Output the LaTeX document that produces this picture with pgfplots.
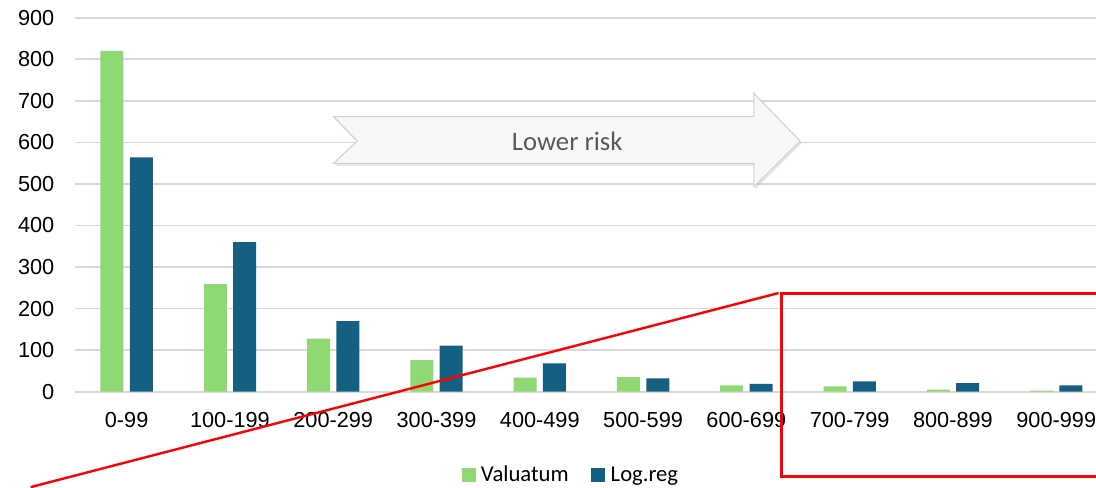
\documentclass[border=0pt]{standalone}
\usepackage{pgfplots}
\pgfplotsset{compat=1.18}
\usepackage{fontspec}
\setmainfont{Liberation Sans}
\newfontfamily\carlito{Carlito}
\usetikzlibrary{shadows}
\definecolor{valgreen}{HTML}{8ED973}
\definecolor{logblue}{HTML}{156082}
\definecolor{gridgray}{HTML}{D9D9D9}
\definecolor{arrowfill}{HTML}{F7F7F7}
\definecolor{arrowedge}{HTML}{D0D0D0}
\definecolor{textgray}{HTML}{595959}

\begin{document}
\begin{tikzpicture}
\begin{axis}[
  width=765.75pt, height=280.5pt, scale only axis,
  xmin=-0.5, xmax=9.385, ymin=0, ymax=900,
  ytick={0,100,...,900},
  xtick={0,...,9},
  xticklabels={0-99,100-199,200-299,300-399,400-499,500-599,600-699,700-799,800-899,900-999},
  axis line style={draw=none},
  major tick length=0pt,
  ymajorgrids, grid style={gridgray, line width=1.2pt},
  /pgf/number format/assume math mode=true,
  tick label style={font=\fontsize{16.3}{19}\selectfont},
  yticklabel style={xshift=-12pt},
  xticklabel style={yshift=-12pt},
  clip=false,
  legend style={at={(0.486,-0.2227)}, anchor=center, draw=none, fill=none,
    legend columns=2, font=\carlito\fontsize{17}{20}\selectfont,
    /tikz/every odd column/.append style={column sep=2pt},
    /tikz/every even column/.append style={column sep=15pt}},
  legend cell align=left,
  legend image code/.code={\fill[#1] (0pt,-5.25pt) rectangle (10.5pt,5.25pt);},
]
\addplot[ybar, bar width=17.25pt, bar shift=-11pt, fill=valgreen, draw=none] coordinates {
(0,820) (1,259) (2,128) (3,76) (4,34) (5,35) (6,15) (7,13) (8,5) (9,2.5)
};
\addlegendentry{Valuatum}
\addplot[ybar, bar width=17.25pt, bar shift=11pt, fill=logblue, draw=none] coordinates {
(0,564) (1,360) (2,170) (3,111) (4,68) (5,32) (6,19) (7,25) (8,21) (9,15)
};
\addlegendentry{Log.reg}

% arrow annotation
\filldraw[fill=arrowfill, draw=arrowedge, line width=0.75pt,
  drop shadow={shadow xshift=1pt, shadow yshift=-2pt, opacity=0.2}]
  (axis cs:2.004,661.9) -- (axis cs:6.073,661.9) -- (axis cs:6.073,718.2)
  -- (axis cs:6.520,603.4) -- (axis cs:6.073,493.4) -- (axis cs:6.073,549.7)
  -- (axis cs:2.004,549.7) -- (axis cs:2.233,603.4) -- cycle;
\node[text=textgray, font=\carlito\fontsize{20}{24}\selectfont] at (axis cs:4.266,603.4) {Lower risk};

% red markup
\draw[red, line width=1.8pt] (axis cs:-0.929,-229.5) -- (axis cs:6.312,237.5);
\draw[red, line width=2.4pt] (axis cs:9.7,236.8) -- (axis cs:6.338,236.8)
  -- (axis cs:6.338,-204.6) -- (axis cs:9.7,-204.6);
\end{axis}
\pgfresetboundingbox
\useasboundingbox ([xshift=-56.25pt,yshift=-71.6pt]current axis.south west)
  rectangle ([yshift=13.3pt]current axis.north east);
\end{tikzpicture}
\end{document}
